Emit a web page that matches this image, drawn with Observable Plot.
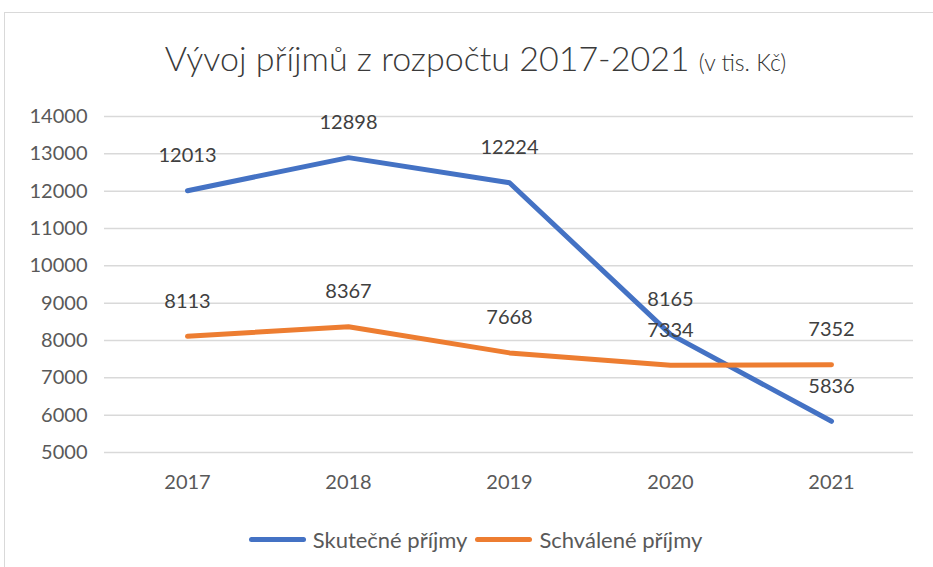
<!DOCTYPE html>
<html>
<head>
<meta charset="utf-8">
<script src="https://cdn.jsdelivr.net/npm/d3@7"></script>
<script src="https://cdn.jsdelivr.net/npm/@observablehq/plot@0.6"></script>
<style>
  html, body { margin: 0; padding: 0; background: #fff; }
  #wrap { position: relative; width: 933px; height: 567px; overflow: hidden; font-family: Lato, "Open Sans", sans-serif; }
  #frame { position: absolute; left: 4px; top: 12px; width: 940px; height: 600px; border-top: 1.5px solid #d9d9d9; border-left: 1.5px solid #d9d9d9; box-sizing: border-box; }
  #title { position: absolute; left: 0; width: 933px; top: 37px; text-align: center; font-size: 34px; font-weight: 300; color: #3a3a3a; white-space: nowrap; padding-left: 18px; box-sizing: border-box; }
  #title small { font-size: 23px; font-weight: 300; color: #333; }
  #chart { position: absolute; left: 0; top: 90px; }
  #legend { position: absolute; left: 0; width: 933px; top: 526px; display: flex; justify-content: center; align-items: center; font-size: 22px; color: #595959; padding-left: 18px; box-sizing: border-box; }
  .item { display: flex; align-items: center; margin: 0 4px; }
  .sw { display: inline-block; width: 57px; height: 5px; border-radius: 3px; margin-right: 7px; }
</style>
</head>
<body>
<div id="wrap">
  <div id="frame"></div>
  <div id="title">Vývoj příjmů z rozpočtu 2017-2021 <small>(v tis. Kč)</small></div>
  <div id="chart"></div>
  <div id="legend"></div>
</div>
<script>
const years = ["2017", "2018", "2019", "2020", "2021"];
const seriesNames = ["Skutečné příjmy", "Schválené příjmy"];
const skutecne = [12013, 12898, 12224, 8165, 5836];
const schvalene = [8113, 8367, 7668, 7334, 7352];
const yTicks = [5000, 6000, 7000, 8000, 9000, 10000, 11000, 12000, 13000, 14000];
const colors = ["#4472C4", "#ED7D31"];

const data = [];
[skutecne, schvalene].forEach((vals, si) => {
  vals.forEach((v, i) => data.push({ year: years[i], value: v, series: seriesNames[si] }));
});

const chart = Plot.plot({
  width: 933,
  height: 410,
  marginLeft: 104,
  marginRight: 20,
  marginTop: 26,
  marginBottom: 48,
  style: { fontFamily: "Lato, 'Open Sans', sans-serif", fontSize: "20px", color: "#595959", background: "transparent", overflow: "visible" },
  x: { type: "point", domain: years, padding: 0.5, label: null, tickSize: 0, tickPadding: 22 },
  y: { domain: [5000, 14000], ticks: yTicks, label: null, tickSize: 0, tickPadding: 17, tickFormat: d => String(d) },
  color: { domain: seriesNames, range: colors },
  marks: [
    Plot.ruleY(yTicks, { stroke: "#d9d9d9", strokeWidth: 1.5 }),
    Plot.line(data, { x: "year", y: "value", z: "series", stroke: "series", strokeWidth: 5, strokeLinecap: "round", strokeLinejoin: "round" }),
    Plot.text(data, { x: "year", y: "value", text: d => String(d.value), dy: -35, fill: "#404040", fontSize: 20 })
  ]
});
document.getElementById("chart").appendChild(chart);

const legend = document.getElementById("legend");
seriesNames.forEach((name, i) => {
  const it = document.createElement("div");
  it.className = "item";
  it.innerHTML = `<span class="sw" style="background:${colors[i]}"></span><span>${name}</span>`;
  legend.appendChild(it);
});
</script>
</body>
</html>
